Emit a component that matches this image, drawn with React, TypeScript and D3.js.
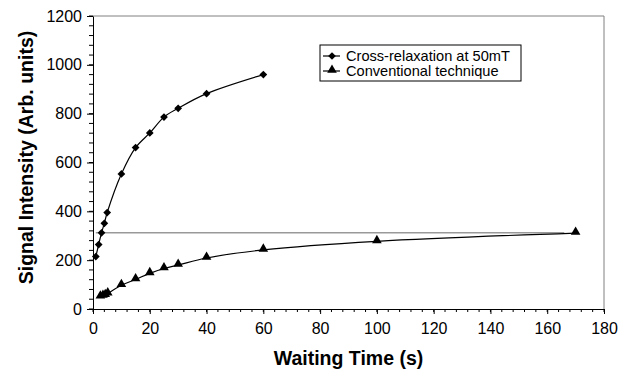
import { useEffect, useRef } from 'react';
import * as d3 from 'd3';

// Waiting times (s) and signal intensities
const crossTimes = [1, 2, 3, 4, 5, 10, 15, 20, 25, 30, 40, 60];
const crossValues = [215, 264, 312, 351, 395, 553, 661, 721, 786, 822, 882, 960];

const convTimes = [2.6, 3.5, 4.3, 5.2, 10, 15, 20, 25, 30, 40, 60, 100, 170];
const convValues = [50, 53, 56, 63, 97, 121, 146, 166, 180, 209, 242, 277, 311];

// horizontal reference line (equal intensity level)
const refTimes = [1, 166];
const refValues = [312, 312];

const xTicks = [0, 20, 40, 60, 80, 100, 120, 140, 160, 180];
const yTicks = [0, 200, 400, 600, 800, 1000, 1200];

const legendLabels = ['Cross-relaxation at 50mT', 'Conventional technique'];

const FONT = '"Liberation Sans", Arial, Helvetica, sans-serif';

export default function App() {
    const svgRef = useRef<SVGSVGElement>(null);

    useEffect(() => {
        const width = 621;
        const height = 370;
        const margin = { top: 16, right: 17, bottom: 61, left: 93 };
        const innerWidth = width - margin.left - margin.right;
        const innerHeight = height - margin.top - margin.bottom;

        const root = d3.select(svgRef.current);
        root.selectAll('*').remove();
        root.attr('width', width).attr('height', height);

        const svg = root.append('g')
            .attr('transform', `translate(${margin.left},${margin.top})`);

        const x = d3.scaleLinear().domain([0, 180]).range([0, innerWidth]);
        const y = d3.scaleLinear().domain([0, 1200]).range([innerHeight, 0]);

        // plot frame (top + right)
        svg.append('path')
            .attr('d', `M0,0H${innerWidth}V${innerHeight}`)
            .attr('fill', 'none')
            .attr('stroke', '#808080')
            .attr('stroke-width', 1);

        // minor ticks
        const xMinor = d3.range(0, 181, 4);
        const yMinor = d3.range(0, 1201, 40);

        svg.append('g')
            .selectAll('line')
            .data(xMinor)
            .enter()
            .append('line')
            .attr('x1', d => x(d))
            .attr('x2', d => x(d))
            .attr('y1', innerHeight)
            .attr('y2', innerHeight + 3)
            .attr('stroke', '#000');

        svg.append('g')
            .selectAll('line')
            .data(yMinor)
            .enter()
            .append('line')
            .attr('x1', -4)
            .attr('x2', 0)
            .attr('y1', d => y(d))
            .attr('y2', d => y(d))
            .attr('stroke', '#000');

        // X axis
        const xAxis = svg.append('g')
            .attr('transform', `translate(0,${innerHeight})`)
            .call(d3.axisBottom(x).tickValues(xTicks).tickSizeInner(5).tickSizeOuter(0).tickPadding(9));
        xAxis.select('.domain').attr('stroke', '#000');
        xAxis.selectAll('text')
            .style('font-family', FONT)
            .style('font-size', '16px')
            .attr('fill', '#000');

        // Y axis
        const yAxis = svg.append('g')
            .call(d3.axisLeft(y).tickValues(yTicks).tickFormat(d3.format('d')).tickSizeInner(6).tickSizeOuter(0).tickPadding(5));
        yAxis.select('.domain').attr('stroke', '#000');
        yAxis.selectAll('text')
            .style('font-family', FONT)
            .style('font-size', '16px')
            .attr('fill', '#000');

        // axis titles
        root.append('text')
            .attr('x', margin.left + innerWidth / 2)
            .attr('y', 365)
            .attr('text-anchor', 'middle')
            .style('font-family', FONT)
            .style('font-size', '19.5px')
            .style('font-weight', 'bold')
            .text('Waiting Time (s)');

        root.append('text')
            .attr('transform', `translate(33,${margin.top + innerHeight / 2 - 5}) rotate(-90)`)
            .attr('text-anchor', 'middle')
            .style('font-family', FONT)
            .style('font-size', '19.5px')
            .style('font-weight', 'bold')
            .text('Signal Intensity (Arb. units)');

        // reference line
        const refLine = d3.line<number>()
            .x((d, i) => x(refTimes[i]))
            .y(d => y(d));
        svg.append('path')
            .datum(refValues)
            .attr('fill', 'none')
            .attr('stroke', '#999')
            .attr('stroke-width', 1.5)
            .attr('d', refLine);

        // smoothed series lines
        const crossLine = d3.line<number>()
            .x((d, i) => x(crossTimes[i]))
            .y(d => y(d))
            .curve(d3.curveCatmullRom.alpha(0.5));
        const convLine = d3.line<number>()
            .x((d, i) => x(convTimes[i]))
            .y(d => y(d))
            .curve(d3.curveCatmullRom.alpha(0.5));

        svg.append('path')
            .datum(crossValues)
            .attr('fill', 'none')
            .attr('stroke', '#000')
            .attr('stroke-width', 1.2)
            .attr('d', crossLine);

        svg.append('path')
            .datum(convValues)
            .attr('fill', 'none')
            .attr('stroke', '#000')
            .attr('stroke-width', 1.2)
            .attr('d', convLine);

        // markers: square turned 45deg gives an Excel-like diamond
        const diamond = d3.symbol().type(d3.symbolSquare).size(30);
        const triangle = d3.symbol().type(d3.symbolTriangle).size(40);

        svg.append('g')
            .selectAll('path')
            .data(crossValues)
            .enter()
            .append('path')
            .attr('d', diamond)
            .attr('transform', (d, i) => `translate(${x(crossTimes[i])},${y(d)}) rotate(45)`)
            .attr('fill', '#000');

        svg.append('g')
            .selectAll('path')
            .data(convValues)
            .enter()
            .append('path')
            .attr('d', triangle)
            .attr('transform', (d, i) => `translate(${x(convTimes[i])},${y(d) - 1})`)
            .attr('fill', '#000');

        // legend
        const legend = root.append('g').attr('transform', 'translate(320,45)');
        legend.append('rect')
            .attr('width', 201)
            .attr('height', 36)
            .attr('fill', '#fff')
            .attr('stroke', '#000')
            .attr('stroke-width', 1);

        legendLabels.forEach((label, i) => {
            const row = legend.append('g').attr('transform', `translate(0,${11 + i * 15})`);
            row.append('line')
                .attr('x1', 3)
                .attr('x2', 20)
                .attr('stroke', '#000')
                .attr('stroke-width', 1.2);
            row.append('path')
                .attr('d', i === 0 ? diamond : triangle)
                .attr('transform', i === 0 ? 'translate(12,0) rotate(45)' : 'translate(12,-1)')
                .attr('fill', '#000');
            row.append('text')
                .attr('x', 26)
                .attr('dy', '0.35em')
                .style('font-family', FONT)
                .style('font-size', '14.6px')
                .text(label);
        });
    }, []);

    return (
        <div style={{ position: 'absolute', left: 0, top: 0 }}>
            <svg ref={svgRef} width={621} height={370} style={{ display: 'block', background: '#fff' }}></svg>
        </div>
    );
}
